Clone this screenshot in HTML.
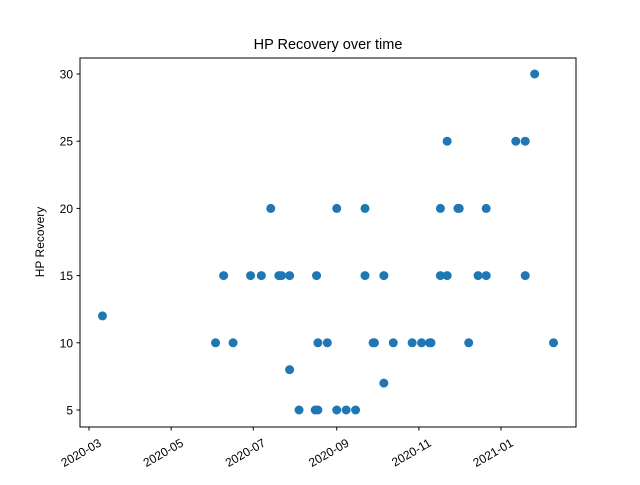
<!DOCTYPE html>
<html><head><meta charset="utf-8"><style>
body{margin:0;background:#fff;}
svg text{font-family:"Liberation Sans","DejaVu Sans",sans-serif;fill:#000;}
</style></head><body>
<svg id="chart" width="640" height="480" xmlns="http://www.w3.org/2000/svg">
<rect x="0" y="0" width="640" height="480" fill="#fff"/>
<text x="328" y="49" font-size="14.5" text-anchor="middle">HP Recovery over time</text>
<text x="0" y="0" font-size="12" text-anchor="middle" transform="translate(44,242) rotate(-90)">HP Recovery</text>
<g id="marks"></g>
<g id="axes"></g>
<rect x="80" y="58" width="496" height="369" fill="none" stroke="#000" stroke-width="1"/>
</svg>
<script>
const dates = ["2020-03-11","2020-06-03","2020-06-09","2020-06-16","2020-06-29","2020-07-07","2020-07-14","2020-07-20","2020-07-22","2020-07-28","2020-07-28","2020-08-04","2020-08-16","2020-08-17","2020-08-18","2020-08-18","2020-08-25","2020-09-01","2020-09-01","2020-09-08","2020-09-15","2020-09-22","2020-09-22","2020-09-28","2020-09-29","2020-10-06","2020-10-06","2020-10-13","2020-10-27","2020-11-03","2020-11-09","2020-11-10","2020-11-17","2020-11-17","2020-11-22","2020-11-22","2020-11-30","2020-12-01","2020-12-08","2020-12-15","2020-12-21","2020-12-21","2021-01-12","2021-01-19","2021-01-19","2021-01-26","2021-02-09"];
const hpValues = [12,10,15,10,15,15,20,15,15,8,15,5,5,15,5,10,10,5,20,5,5,20,15,10,10,7,15,10,10,10,10,10,20,15,25,15,20,20,10,15,20,15,25,25,15,30,10];
const xTickLabels = ["2020-03","2020-05","2020-07","2020-09","2020-11","2021-01"];
const yTickLabels = [5,10,15,20,25,30];

const NS="http://www.w3.org/2000/svg";
const DAY=86400000, ORIGIN=Date.UTC(2020,2,1);
function dayOf(s){const p=s.split("-").map(Number);return (Date.UTC(p[0],p[1]-1,p[2]||1)-ORIGIN)/DAY;}
function xScale(s){return 89+dayOf(s)*(412/306);}
function yScale(v){return 410-(v-5)*(336/25);}

const marks=document.getElementById("marks");
dates.forEach((d,i)=>{
  const c=document.createElementNS(NS,"circle");
  c.setAttribute("cx",xScale(d));c.setAttribute("cy",yScale(hpValues[i]));
  c.setAttribute("r",4.5);c.setAttribute("fill","#1f77b4");
  
  
  marks.appendChild(c);
});
const axes=document.getElementById("axes");
xTickLabels.forEach(l=>{
  const x=xScale(l+"-01");
  const t=document.createElementNS(NS,"line");
  t.setAttribute("x1",x);t.setAttribute("x2",x);t.setAttribute("y1",427);t.setAttribute("y2",430.5);t.setAttribute("stroke","#000");
  
  
  axes.appendChild(t);
  const tx=document.createElementNS(NS,"text");
  tx.setAttribute("font-size","12");tx.setAttribute("text-anchor","end");
  tx.setAttribute("transform","translate("+(x+9)+",438) rotate(-30)");
  tx.setAttribute("dy","0.7em");
  tx.textContent=l;
  
  
  axes.appendChild(tx);
});
yTickLabels.forEach(v=>{
  const y=yScale(v);
  const t=document.createElementNS(NS,"line");
  t.setAttribute("x1",76.5);t.setAttribute("x2",80);t.setAttribute("y1",y);t.setAttribute("y2",y);t.setAttribute("stroke","#000");
  
  
  axes.appendChild(t);
  const tx=document.createElementNS(NS,"text");
  tx.setAttribute("font-size","12");tx.setAttribute("text-anchor","end");
  tx.setAttribute("x",73);tx.setAttribute("y",y+4.5);
  tx.textContent=v;
  
  
  axes.appendChild(tx);
});
</script>
</body></html>
